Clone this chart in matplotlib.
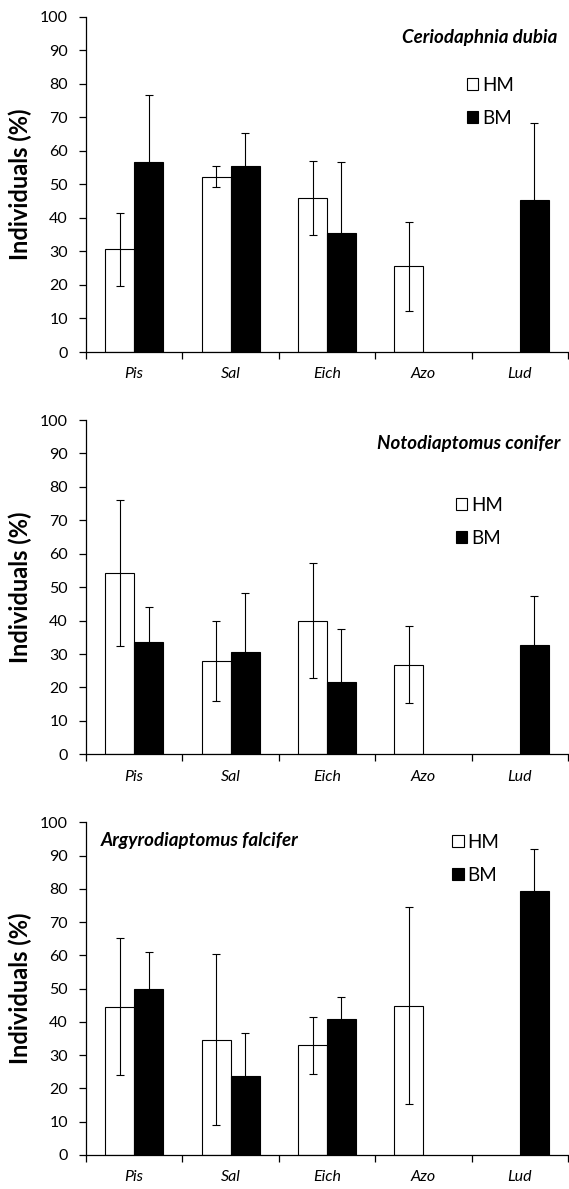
import numpy as np
import matplotlib
matplotlib.use("Agg")
import matplotlib.pyplot as plt
from matplotlib.patches import Patch

plt.rcParams['font.family'] = ['Lato', 'DejaVu Sans']

categories = ['Pis', 'Sal', 'Eich', 'Azo', 'Lud']
series_names = ['HM', 'BM']
titles = ['Ceriodaphnia dubia', 'Notodiaptomus conifer', 'Argyrodiaptomus falcifer']
y_ticks = [0, 10, 20, 30, 40, 50, 60, 70, 80, 90, 100]

hm1 = [30.6, 52.3, 46.0, 25.5, np.nan]
hm1_err = [10.8, 3.2, 11.1, 13.2, np.nan]
bm1 = [56.7, 55.5, 35.6, np.nan, 45.3]
bm1_err = [19.8, 9.7, 21.2, np.nan, 23.0]

hm2 = [54.2, 28.0, 40.0, 26.8, np.nan]
hm2_err = [21.8, 12.0, 17.3, 11.6, np.nan]
bm2 = [33.7, 30.6, 21.7, np.nan, 32.6]
bm2_err = [10.3, 17.6, 15.7, np.nan, 14.7]

hm3 = [44.5, 34.7, 33.0, 44.9, np.nan]
hm3_err = [20.6, 25.7, 8.6, 29.5, np.nan]
bm3 = [50.0, 23.8, 41.0, np.nan, 79.5]
bm3_err = [10.9, 13.0, 6.4, np.nan, 12.5]

panels = [
    (hm1, hm1_err, bm1, bm1_err),
    (hm2, hm2_err, bm2, bm2_err),
    (hm3, hm3_err, bm3, bm3_err),
]

W, H = 569, 1189
fig = plt.figure(figsize=(W / 100, H / 100), dpi=100)

# axes rectangles in pixels: (top, bottom)
ax_px = [(16.7, 352.0), (420.0, 754.3), (822.3, 1155.0)]
left_px, right_px = 86, 568
title_pos = [(0.977, 0.937, 'right'), (0.985, 0.931, 'right'), (0.03, 0.946, 'left')]
legend_pos = [(0.79, 0.82), (0.768, 0.77), (0.76, 0.965)]

bw = 0.3
x = np.arange(len(categories)) + 0.5

for i, (hm, hme, bm, bme) in enumerate(panels):
    top, bot = ax_px[i]
    ax = fig.add_axes([left_px / W, 1 - bot / H, (right_px - left_px) / W, (bot - top) / H])
    hm = np.array(hm); hme = np.array(hme); bm = np.array(bm); bme = np.array(bme)
    mh = ~np.isnan(hm)
    mb = ~np.isnan(bm)
    ax.bar(x[mh] - bw / 2, hm[mh], width=bw, color='white', edgecolor='black', linewidth=0.8, zorder=2)
    ax.bar(x[mb] + bw / 2, bm[mb], width=bw, color='black', edgecolor='black', linewidth=0.8, zorder=2)
    ax.errorbar(x[mh] - bw / 2, hm[mh], yerr=hme[mh], fmt='none', ecolor='black',
                elinewidth=0.8, capsize=3, capthick=0.8, zorder=3)
    ax.errorbar(x[mb] + bw / 2, bm[mb], yerr=bme[mb], fmt='none', ecolor='black',
                elinewidth=0.8, capsize=3, capthick=0.8, zorder=3)

    ax.set_xlim(0, len(categories))
    ax.set_ylim(0, 100)
    ax.set_yticks(y_ticks)
    ax.tick_params(axis='y', direction='out', length=5, width=0.9, pad=8, labelsize=11.5)
    ax.set_xticks(x)
    ax.set_xticklabels(categories, fontstyle='italic', fontsize=11.5)
    ax.set_xticks(np.arange(len(categories) + 1), minor=True)
    ax.tick_params(axis='x', which='major', length=0, pad=11)
    ax.tick_params(axis='x', which='minor', direction='out', length=5, width=0.9)
    for s in ['top', 'right']:
        ax.spines[s].set_visible(False)
    for s in ['left', 'bottom']:
        ax.spines[s].set_linewidth(0.9)

    ax.set_ylabel('Individuals (%)', fontsize=17, fontweight='bold')
    ax.yaxis.set_label_coords(-0.112, 0.5)

    tx, ty, ha = title_pos[i]
    ax.text(tx, ty, titles[i], transform=ax.transAxes, ha=ha, va='center',
            fontsize=13.5, fontweight='bold', fontstyle='italic')

    handles = [Patch(facecolor='white', edgecolor='black', linewidth=0.8),
               Patch(facecolor='black', edgecolor='black', linewidth=0.8)]
    lx, ly = legend_pos[i]
    ax.legend(handles, series_names, loc='upper left', bbox_to_anchor=(lx, ly),
              frameon=False, fontsize=13.5, handlelength=0.6, handleheight=0.6,
              handletextpad=0.2, labelspacing=0.85, borderpad=0, borderaxespad=0)

fig.savefig('out.png', dpi=100)
